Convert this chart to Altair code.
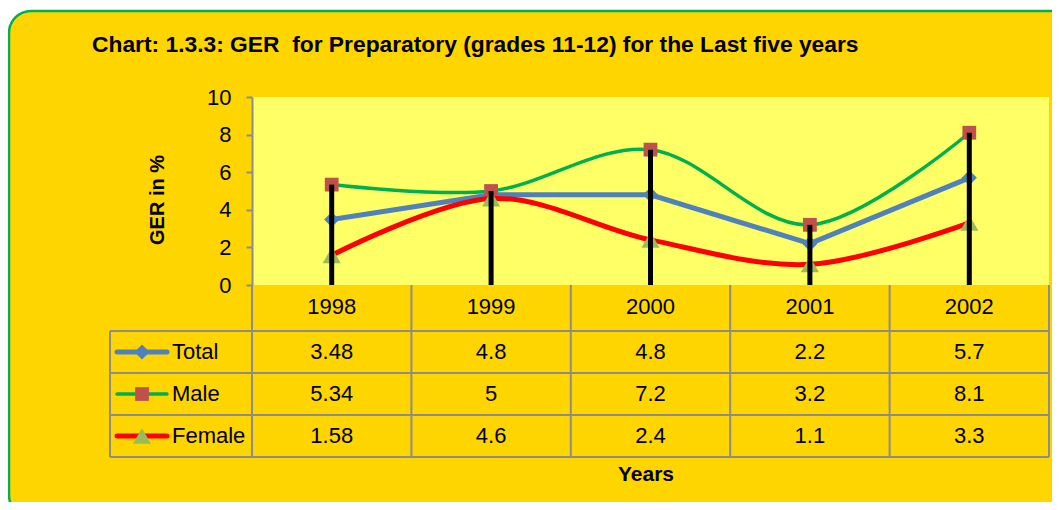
import altair as alt
import pandas as pd

# ---------------- data ----------------
years = ["1998", "1999", "2000", "2001", "2002"]
total = [3.48, 4.8, 4.8, 2.2, 5.7]
male = [5.34, 5, 7.2, 3.2, 8.1]
female = [1.58, 4.6, 2.4, 1.1, 3.3]
series_names = ["Total", "Male", "Female"]
y_ticks = [0, 2, 4, 6, 8, 10]
title_text = "Chart: 1.3.3: GER\u00a0 for Preparatory (grades 11-12) for the Last five years"
y_title = "GER in %"
x_title = "Years"

# ---------------- style ----------------
FONT = "Liberation Sans, Arial, sans-serif"
FS = 22
W, PH, H = 797, 188, 360
GOLD = "#FFD500"
PLOT_BG = "#FFFF66"
BORDER = "#00B050"
GRAY = "#8C8C8C"

series_vals = {"Total": total, "Male": male, "Female": female}
line_colors = {"Total": "#4F81BD", "Male": "#00B050", "Female": "#FF0000"}
marker_colors = {"Total": "#4F81BD", "Male": "#C0504D", "Female": "#9BBB59"}
shapes = {"Total": "diamond", "Male": "square", "Female": "triangle-up"}
line_widths = {"Total": 5, "Male": 3.5, "Female": 5}
marker_sizes = {"Total": 230, "Male": 190, "Female": 330}
interp = {"Total": "linear", "Male": "cardinal", "Female": "cardinal"}

one = pd.DataFrame({"k": [0]})

x_scale = alt.Scale(domain=years, paddingInner=0, paddingOuter=0)
x_enc = alt.X("year:N", scale=x_scale, axis=None)

yscale = alt.Scale(domain=[0, 10], range=[PH, 0], nice=False)
yaxis = alt.Axis(values=y_ticks, grid=False, domainColor=GRAY, domainWidth=2,
                 tickColor=GRAY, tickWidth=2, tickSize=6, labelFont=FONT,
                 labelFontSize=FS, labelColor="black", labelPadding=15, title=None,
                 zindex=2)

# ---------------- outer box ----------------
box = alt.Chart(one).mark_rect(fill=GOLD, stroke=BORDER, strokeWidth=2.5, cornerRadius=22).encode(
    x=alt.value(-243), x2=alt.value(W + 40), y=alt.value(-86), y2=alt.value(H + 60)
)

# ---------------- value plot ----------------
bg_df = pd.DataFrame({"lo": [0], "hi": [10]})
plot_bg = alt.Chart(bg_df).mark_rect(fill=PLOT_BG).encode(
    x=alt.value(0), x2=alt.value(W),
    y=alt.Y("hi:Q", scale=yscale, axis=yaxis), y2="lo:Q"
)

value_layers = [plot_bg]
for s in series_names:
    df = pd.DataFrame({"year": years, "v": series_vals[s]})
    value_layers.append(
        alt.Chart(df).mark_line(color=line_colors[s], strokeWidth=line_widths[s],
                                interpolate=interp[s]).encode(
            x=x_enc, y=alt.Y("v:Q", scale=yscale, axis=yaxis))
    )
    value_layers.append(
        alt.Chart(df).mark_point(shape=shapes[s], filled=True, opacity=1,
                                 color=marker_colors[s], size=marker_sizes[s]).encode(
            x=x_enc, y=alt.Y("v:Q", scale=yscale, axis=yaxis))
    )

drop_df = pd.DataFrame({
    "year": years,
    "top": [max(t, m, f) for t, m, f in zip(total, male, female)],
    "zero": [0] * len(years),
})
value_layers.append(
    alt.Chart(drop_df).mark_rule(color="black", strokeWidth=5).encode(
        x=x_enc, y=alt.Y("top:Q", scale=yscale, axis=yaxis), y2="zero:Q")
)
values = alt.layer(*value_layers)

# ---------------- data table ----------------
rows = ["hdr"] + series_names
rscale = alt.Scale(domain=rows, range=[192, H], paddingInner=0, paddingOuter=0)


def fmt(v):
    return f"{v:g}"


tab_records = []
for s in series_names:
    for y, v in zip(years, series_vals[s]):
        tab_records.append({"year": y, "row": s, "label": fmt(v)})
tab_df = pd.DataFrame(tab_records)
hdr_df = pd.DataFrame({"year": years, "row": ["hdr"] * len(years), "label": years})

table_layers = []
# horizontal grid lines (top of each series row + bottom)
hl_df = pd.DataFrame({"row": series_names})
table_layers.append(
    alt.Chart(hl_df).mark_rule(color=GRAY, strokeWidth=2).encode(
        x=alt.value(-142), x2=alt.value(W),
        y=alt.Y("row:N", scale=rscale, axis=None, bandPosition=0))
)
table_layers.append(
    alt.Chart(pd.DataFrame({"row": [series_names[-1]]})).mark_rule(color=GRAY, strokeWidth=2).encode(
        x=alt.value(-142), x2=alt.value(W),
        y=alt.Y("row:N", scale=rscale, axis=None, bandPosition=1))
)
# vertical grid lines
vl_df = pd.DataFrame({"year": years})
table_layers.append(
    alt.Chart(vl_df).mark_rule(color=GRAY, strokeWidth=2).encode(
        x=alt.X("year:N", scale=x_scale, axis=None, bandPosition=0),
        y=alt.value(PH), y2=alt.value(H))
)
table_layers.append(
    alt.Chart(pd.DataFrame({"year": [years[-1]]})).mark_rule(color=GRAY, strokeWidth=2).encode(
        x=alt.X("year:N", scale=x_scale, axis=None, bandPosition=1),
        y=alt.value(PH), y2=alt.value(H))
)
# legend column left border
table_layers.append(
    alt.Chart(pd.DataFrame({"row": [series_names[0]]})).mark_rule(color=GRAY, strokeWidth=2).encode(
        x=alt.value(-142),
        y=alt.Y("row:N", scale=rscale, axis=None, bandPosition=0), y2=alt.value(H))
)
# cell texts
table_layers.append(
    alt.Chart(tab_df).mark_text(font=FONT, fontSize=FS, color="black", align="center",
                                baseline="middle").encode(
        x=x_enc, y=alt.Y("row:N", scale=rscale, axis=None), text="label:N")
)
table_layers.append(
    alt.Chart(hdr_df).mark_text(font=FONT, fontSize=FS, color="black", align="center",
                                baseline="middle", dy=-3).encode(
        x=x_enc, y=alt.Y("row:N", scale=rscale, axis=None), text="label:N")
)
# legend keys
for s in series_names:
    ldf = pd.DataFrame({"row": [s], "name": [s]})
    table_layers.append(
        alt.Chart(ldf).mark_rule(color=line_colors[s], strokeWidth=line_widths[s], strokeCap="round").encode(
            x=alt.value(-135), x2=alt.value(-85), y=alt.Y("row:N", scale=rscale, axis=None))
    )
    table_layers.append(
        alt.Chart(ldf).mark_point(shape=shapes[s], filled=True, opacity=1,
                                  color=marker_colors[s], size=marker_sizes[s]).encode(
            x=alt.value(-110), y=alt.Y("row:N", scale=rscale, axis=None))
    )
    table_layers.append(
        alt.Chart(ldf).mark_text(font=FONT, fontSize=FS, color="black", align="left",
                                 baseline="middle").encode(
            x=alt.value(-80), y=alt.Y("row:N", scale=rscale, axis=None), text="name:N")
    )
table = alt.layer(*table_layers)

# ---------------- titles ----------------
title = alt.Chart(pd.DataFrame({"t": [title_text]})).mark_text(
    font=FONT, fontSize=22.8, fontWeight="bold", color="black", align="left", baseline="alphabetic"
).encode(x=alt.value(-160), y=alt.value(-45.5), text="t:N")

ytitle = alt.Chart(pd.DataFrame({"t": [y_title]})).mark_text(
    font=FONT, fontSize=20, fontWeight="bold", color="black", align="center", baseline="middle", angle=270
).encode(x=alt.value(-94), y=alt.value(103), text="t:N")

xtitle = alt.Chart(pd.DataFrame({"t": [x_title]})).mark_text(
    font=FONT, fontSize=21, fontWeight="bold", color="black", align="center", baseline="alphabetic"
).encode(x=alt.value(394), y=alt.value(383.5), text="t:N")

chart = alt.layer(box, values, table, title, ytitle, xtitle).resolve_scale(
    y="independent"
).properties(
    width=W, height=H,
    autosize=alt.AutoSizeParams(type="none"),
    padding={"left": 244, "top": 89, "right": 3, "bottom": 45},
    background="white",
).configure_view(strokeWidth=0)

chart.save("out.html", embed_options={"renderer": "svg", "actions": False})
